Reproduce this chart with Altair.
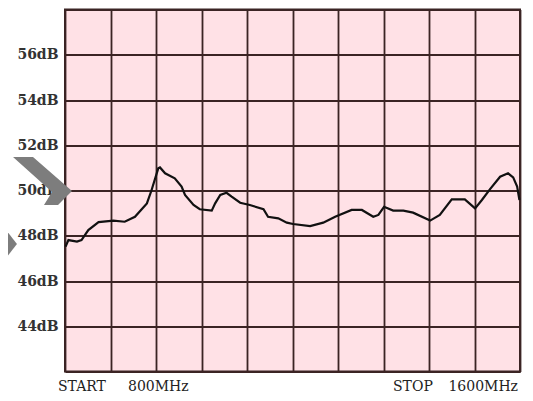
import altair as alt
import pandas as pd

freq_mhz = [801, 806, 821, 829, 841, 859, 885, 905, 923, 944, 952, 964, 967, 976, 993,
            1005, 1011, 1026, 1037, 1058, 1064, 1073, 1084, 1093, 1108, 1125, 1149, 1157,
            1175, 1190, 1201, 1231, 1254, 1275, 1304, 1322, 1342, 1351, 1361, 1377, 1395,
            1412, 1442, 1459, 1480, 1503, 1521, 1533, 1547, 1565, 1579, 1588, 1595, 1599]
level_db = [47.52, 47.81, 47.74, 47.81, 48.25, 48.60, 48.67, 48.62, 48.84, 49.43, 50.00,
            50.98, 51.02, 50.76, 50.54, 50.17, 49.80, 49.36, 49.17, 49.11, 49.43, 49.80,
            49.90, 49.73, 49.46, 49.36, 49.17, 48.84, 48.77, 48.58, 48.52, 48.43, 48.58,
            48.84, 49.14, 49.14, 48.84, 48.92, 49.28, 49.11, 49.11, 49.02, 48.67, 48.92,
            49.61, 49.61, 49.21, 49.58, 50.05, 50.61, 50.76, 50.58, 50.17, 49.58]
x_grid = [800 + 80 * i for i in range(11)]
y_grid = [42 + 2 * i for i in range(9)]
start_words = ["START", "800MHz"]
stop_words = ["STOP", "1600MHz"]

df = pd.DataFrame({"f": freq_mhz, "db": level_db})

FONT = "DejaVu Serif"
GRID = "#3b2424"

line = alt.Chart(df).mark_line(color="#111111", strokeWidth=2.2).encode(
    x=alt.X("f:Q", scale=alt.Scale(domain=[800, 1600], nice=False, zero=False),
            axis=alt.Axis(values=x_grid, labels=False, ticks=False, domain=False,
                          title=None, grid=True, gridColor=GRID, gridWidth=1.8,
                          gridOpacity=1)),
    y=alt.Y("db:Q", scale=alt.Scale(domain=[42, 58], nice=False, zero=False),
            axis=alt.Axis(values=y_grid, ticks=False, domain=False, title=None,
                          grid=True, gridColor=GRID, gridWidth=1.8, gridOpacity=1,
                          labelExpr="datum.value >= 44 && datum.value <= 56 ? datum.value + 'dB' : ''",
                          labelFont=FONT, labelFontSize=14, labelColor="#333333",
                          labelPadding=7, labelFontWeight="bold")),
)


def word(t, x, align):
    return alt.Chart(pd.DataFrame({"t": [t]})).mark_text(
        font=FONT, fontSize=14, color="#222222", align=align, baseline="alphabetic"
    ).encode(text="t:N", x=alt.value(x), y=alt.value(381))


texts = [
    word(start_words[0], -7, "left"),
    word(start_words[1], 63, "left"),
    word(stop_words[0], 328, "left"),
    word(stop_words[1], 453, "right"),
]

chevron = alt.Chart(pd.DataFrame({"k": [0]})).mark_point(
    shape="M-0.983,-0.8 L-0.317,-0.8 L0.983,0.333 L0.517,0.8 L0.05,0.8 L0.317,0.367 Z",
    filled=True, color="#7d7d7d", opacity=1, size=3600, strokeWidth=0
).encode(x=alt.value(-22.5), y=alt.value(171.5))

diamond = alt.Chart(pd.DataFrame({"k": [0]})).mark_point(
    shape="M0,-1 L0.77,0 L0,1 L-0.77,0 Z",
    filled=True, color="#7d7d7d", opacity=1, size=1936, strokeWidth=0
).encode(x=alt.value(-65), y=alt.value(234.5))

chart = alt.layer(line, *texts, chevron, diamond).properties(
    width=455, height=362, autosize="none",
    padding={"left": 57, "top": 1.5, "right": 5, "bottom": 21},
    background="white",
).configure_view(fill="#FFE1E6", stroke="#3b2424", strokeWidth=2)

chart.save("out.html", embed_options={"renderer": "svg", "actions": False})
